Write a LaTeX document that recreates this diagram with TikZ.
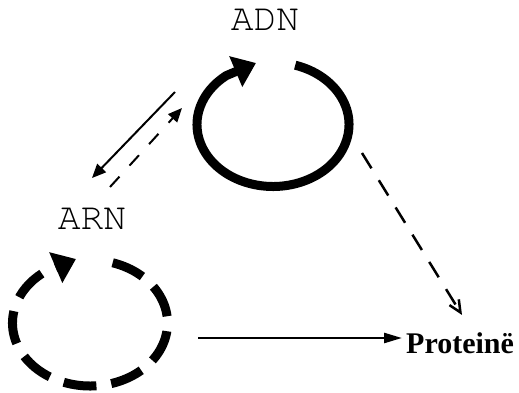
\documentclass[tikz,border=0pt]{standalone}
\usepackage{fontspec}
\newfontfamily\monofnt{TeX Gyre Cursor}
\newfontfamily\serfnt{Liberation Serif}
\usetikzlibrary{arrows.meta}
\begin{document}
\begin{tikzpicture}[x=1pt,y=1pt,
  lbl/.style={inner sep=0pt, font=\monofnt\fontsize{38}{40}\selectfont},
  plbl/.style={inner sep=0pt, font=\serfnt\bfseries\fontsize{30}{32}\selectfont},
  ring/.style={line width=9pt, -{Triangle[length=22pt,width=32pt]}},
  link/.style={line width=2pt, -{Triangle[length=14pt,width=12pt]}},
  dlink/.style={link, dash pattern=on 14pt off 15pt},
  plink/.style={line width=2.5pt, dash pattern=on 18pt off 14pt, -{Straight Barb[length=12pt,width=11pt]}},
  hlink/.style={line width=2.5pt, -{Triangle[length=18pt,width=10pt]}}]
\useasboundingbox (0,0) rectangle (519,393);
% labels
\node[lbl, anchor=base] (adn) at (265,362) {ADN};
\node[lbl, anchor=base] (arn) at (92,163) {ARN};
\node[plbl, anchor=base west] (prot) at (406,39) {Proteinë};
% rings
\coordinate (adnc) at (273,268.5);
\coordinate (arnc) at (90,70);
\coordinate (adntip) at (256,330);
\coordinate (arntip) at (76,134);
\draw[ring] ([shift={(73:76 and 62)}]adnc) arc[start angle=73, end angle=-232, x radius=76, y radius=62] -- (adntip);
\draw[ring, dash pattern=on 33pt off 15pt] ([shift={(73:77.5 and 63)}]arnc) arc[start angle=73, end angle=-232, x radius=77.5, y radius=63] -- (arntip);
% connectors
\coordinate (s1) at (175,301);
\coordinate (t1) at (92,215);
\coordinate (s2) at (110,206);
\coordinate (t2) at (182,285);
\coordinate (s3) at (362,240);
\coordinate (t3) at (462,78);
\coordinate (s4) at (198,55);
\draw[link] (s1) -- (t1);
\draw[dlink] (s2) -- (t2);
\draw[plink] (s3) -- (t3);
\draw[hlink] (s4) -- ([shift={(-4,16)}]prot.base west);
\end{tikzpicture}
\end{document}
